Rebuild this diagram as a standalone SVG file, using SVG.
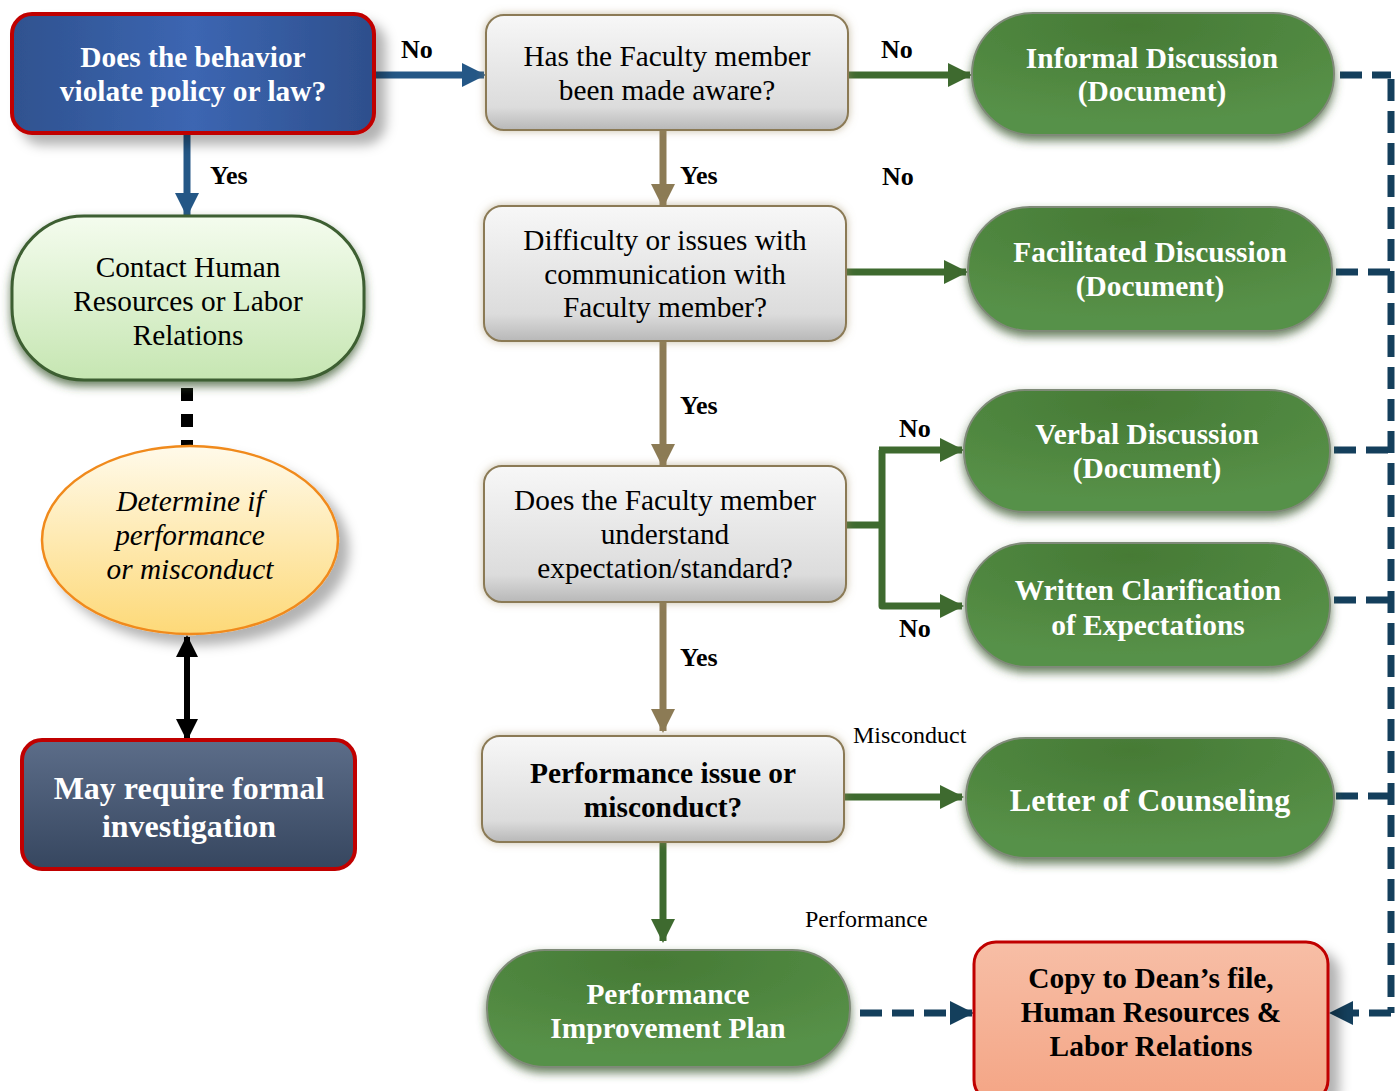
<svg xmlns="http://www.w3.org/2000/svg" width="1400" height="1091" viewBox="0 0 1400 1091">
<defs>
<linearGradient id="gBlue" x1="0" y1="0" x2="1" y2="0">
<stop offset="0" stop-color="#2f528f"/><stop offset="0.5" stop-color="#3c66b2"/><stop offset="1" stop-color="#2e4f8c"/>
</linearGradient>
<linearGradient id="gLight" x1="0" y1="0" x2="0" y2="1">
<stop offset="0" stop-color="#f4fcee"/><stop offset="1" stop-color="#c6e6b2"/>
</linearGradient>
<linearGradient id="gYellow" x1="0" y1="0" x2="0" y2="1">
<stop offset="0" stop-color="#fffaea"/><stop offset="1" stop-color="#fdd978"/>
</linearGradient>
<linearGradient id="gSlate" x1="0" y1="0" x2="0" y2="1">
<stop offset="0" stop-color="#5c6d89"/><stop offset="1" stop-color="#36465f"/>
</linearGradient>
<linearGradient id="gGray" x1="0" y1="0" x2="0" y2="1">
<stop offset="0" stop-color="#f7f7f7"/><stop offset="0.8" stop-color="#dcdcdc"/><stop offset="1" stop-color="#b8b8b8"/>
</linearGradient>
<radialGradient id="gGreen" cx="0.45" cy="0.1" r="0.8">
<stop offset="0" stop-color="#467a35"/><stop offset="1" stop-color="#579148"/>
</radialGradient>
<linearGradient id="gSalmon" x1="0" y1="0" x2="0" y2="1">
<stop offset="0" stop-color="#f7bea6"/><stop offset="1" stop-color="#f4a585"/>
</linearGradient>
<filter id="glowG" x="-10%" y="-20%" width="120%" height="150%">
<feGaussianBlur in="SourceAlpha" stdDeviation="5" result="b"/>
<feOffset dy="5" in="b" result="o"/>
<feFlood flood-color="#3c5a30" flood-opacity="0.75"/>
<feComposite in2="o" operator="in" result="s"/>
<feMerge><feMergeNode in="s"/><feMergeNode in="SourceGraphic"/></feMerge>
</filter>
<filter id="glowB" x="-10%" y="-20%" width="120%" height="150%">
<feGaussianBlur in="SourceAlpha" stdDeviation="4" result="b"/>
<feFlood flood-color="#9c8a60" flood-opacity="0.55"/>
<feComposite in2="b" operator="in" result="s"/>
<feMerge><feMergeNode in="s"/><feMergeNode in="SourceGraphic"/></feMerge>
</filter>
<filter id="shadow" x="-20%" y="-20%" width="150%" height="160%">
<feGaussianBlur in="SourceAlpha" stdDeviation="6" result="b"/>
<feOffset dx="10" dy="10" in="b" result="o"/>
<feFlood flood-color="#000" flood-opacity="0.3"/>
<feComposite in2="o" operator="in" result="s"/>
<feMerge><feMergeNode in="s"/><feMergeNode in="SourceGraphic"/></feMerge>
</filter>
<marker id="aBlue" markerUnits="userSpaceOnUse" markerWidth="24" markerHeight="24" refX="22" refY="12" orient="auto"><path d="M0,0 L24,12 L0,24 Z" fill="#245786"/></marker>
<marker id="aBrown" markerUnits="userSpaceOnUse" markerWidth="24" markerHeight="24" refX="22" refY="12" orient="auto"><path d="M0,0 L24,12 L0,24 Z" fill="#8c7b55"/></marker>
<marker id="aGreen" markerUnits="userSpaceOnUse" markerWidth="24" markerHeight="24" refX="22" refY="12" orient="auto"><path d="M0,0 L24,12 L0,24 Z" fill="#3e6a2f"/></marker>
<marker id="aDash" markerUnits="userSpaceOnUse" markerWidth="24" markerHeight="24" refX="22" refY="12" orient="auto"><path d="M0,0 L24,12 L0,24 Z" fill="#143f5c"/></marker>
<marker id="aBlack" markerUnits="userSpaceOnUse" markerWidth="22" markerHeight="22" refX="20" refY="11" orient="auto-start-reverse"><path d="M0,0 L22,11 L0,22 Z" fill="#000"/></marker>
<style>
text{font-family:"Liberation Serif","Times New Roman",serif;text-anchor:middle}
.w{fill:#fff;font-weight:bold;font-size:29.4px}
.k{fill:#000;font-size:29.3px}
.kb{fill:#000;font-weight:bold;font-size:29.4px}
.big{font-size:32px}
.it{font-style:italic}
.lab{fill:#000;font-weight:bold;font-size:26px;text-anchor:start}
.labr{fill:#000;font-size:24px;text-anchor:start}
.green{fill:url(#gGreen);stroke:#7f8a78;stroke-width:2;filter:url(#glowG)}
.gray{fill:url(#gGray);stroke:#8b7a55;stroke-width:2;filter:url(#glowB)}
.cb{stroke:#245786;stroke-width:7;fill:none}
.cbr{stroke:#8c7b55;stroke-width:7;fill:none}
.cg{stroke:#3e6a2f;stroke-width:7;fill:none}
.cd{stroke:#143f5c;stroke-width:7;fill:none;stroke-dasharray:22 10}
</style>
</defs>
<rect width="1400" height="1091" fill="#fff"/>

<g id="connectors">
<line class="cb" x1="374" y1="75" x2="484" y2="75" marker-end="url(#aBlue)"/>
<line class="cb" x1="187" y1="133" x2="187" y2="215" marker-end="url(#aBlue)"/>
<line x1="187" y1="388" x2="187" y2="446" stroke="#000" stroke-width="12" stroke-dasharray="13 13"/>
<line x1="187" y1="637" x2="187" y2="739" stroke="#000" stroke-width="6" marker-start="url(#aBlack)" marker-end="url(#aBlack)"/>
<line class="cbr" x1="663" y1="130" x2="663" y2="206" marker-end="url(#aBrown)"/>
<line class="cbr" x1="663" y1="341" x2="663" y2="466" marker-end="url(#aBrown)"/>
<line class="cbr" x1="663" y1="602" x2="663" y2="731" marker-end="url(#aBrown)"/>
<line class="cg" x1="663" y1="842" x2="663" y2="941" marker-end="url(#aGreen)"/>
<line class="cg" x1="848" y1="75" x2="970" y2="75" marker-end="url(#aGreen)"/>
<line class="cg" x1="846" y1="272" x2="966" y2="272" marker-end="url(#aGreen)"/>
<path class="cg" d="M846,525 H882"/>
<path class="cg" d="M882,450 V606 H962" stroke-linejoin="round" marker-end="url(#aGreen)"/>
<line class="cg" x1="879" y1="450" x2="962" y2="450" marker-end="url(#aGreen)"/>
<line class="cg" x1="844" y1="797" x2="962" y2="797" marker-end="url(#aGreen)"/>
<line class="cd" x1="1340" y1="75" x2="1391" y2="75"/>
<line class="cd" x1="1336" y1="272" x2="1391" y2="272"/>
<line class="cd" x1="1334" y1="450" x2="1391" y2="450"/>
<line class="cd" x1="1334" y1="600" x2="1391" y2="600"/>
<line class="cd" x1="1336" y1="796" x2="1391" y2="796"/>
<line class="cd" x1="1391" y1="79" x2="1391" y2="1013"/>
<path class="cd" d="M1391,1013 H1331" marker-end="url(#aDash)"/>
<line class="cd" x1="860" y1="1013" x2="972" y2="1013" marker-end="url(#aDash)"/>
<text class="lab" x="401" y="58">No</text>
<text class="lab" x="210" y="184">Yes</text>
<text class="lab" x="680" y="184">Yes</text>
<text class="lab" x="680" y="414">Yes</text>
<text class="lab" x="680" y="666">Yes</text>
<text class="lab" x="881" y="58">No</text>
<text class="lab" x="882" y="185">No</text>
<text class="lab" x="899" y="437">No</text>
<text class="lab" x="899" y="637">No</text>
<text class="labr" x="853" y="743">Misconduct</text>
<text class="labr" x="805" y="927">Performance</text>
</g>

<g id="n-violate">
<rect x="12" y="14" width="362" height="119" rx="20" fill="url(#gBlue)" stroke="#c00000" stroke-width="4" filter="url(#shadow)"/>
<text class="w" x="193" y="67">Does the behavior</text>
<text class="w" x="193" y="101">violate policy or law?</text>
</g>

<g id="n-contact">
<rect x="12" y="216" width="352" height="164" rx="72" fill="url(#gLight)" stroke="#3d5e30" stroke-width="3" filter="url(#glowG)"/>
<text class="k" x="188" y="277">Contact Human</text>
<text class="k" x="188" y="311">Resources or Labor</text>
<text class="k" x="188" y="345">Relations</text>
</g>

<g id="n-determine">
<ellipse cx="190" cy="540" rx="148" ry="94" fill="url(#gYellow)" stroke="#f08a1c" stroke-width="2.5" filter="url(#shadow)"/>
<text class="k it" x="190" y="511">Determine if</text>
<text class="k it" x="190" y="545">performance</text>
<text class="k it" x="190" y="579">or misconduct</text>
</g>

<g id="n-formal">
<rect x="22" y="740" width="333" height="129" rx="20" fill="url(#gSlate)" stroke="#c00000" stroke-width="4"/>
<text class="w big" x="189" y="799">May require formal</text>
<text class="w big" x="189" y="837">investigation</text>
</g>

<g id="n-aware">
<rect class="gray" x="486" y="15" width="362" height="115" rx="18"/>
<text class="k" x="667" y="66">Has the Faculty member</text>
<text class="k" x="667" y="100">been made aware?</text>
</g>

<g id="n-difficulty">
<rect class="gray" x="484" y="206" width="362" height="135" rx="18"/>
<text class="k" x="665" y="250">Difficulty or issues with</text>
<text class="k" x="665" y="284">communication with</text>
<text class="k" x="665" y="317">Faculty member?</text>
</g>

<g id="n-understand">
<rect class="gray" x="484" y="466" width="362" height="136" rx="18"/>
<text class="k" x="665" y="510">Does the Faculty member</text>
<text class="k" x="665" y="544">understand</text>
<text class="k" x="665" y="578">expectation/standard?</text>
</g>

<g id="n-issue">
<rect class="gray" x="482" y="736" width="362" height="106" rx="18"/>
<text class="kb" x="663" y="783">Performance issue or</text>
<text class="kb" x="663" y="817">misconduct?</text>
</g>

<g id="n-pip">
<rect class="green" x="487" y="950" width="363" height="117" rx="58"/>
<text class="w" x="668" y="1004">Performance</text>
<text class="w" x="668" y="1038">Improvement Plan</text>
</g>

<g id="n-informal">
<rect class="green" x="972" y="13" width="362" height="122" rx="61"/>
<text class="w" x="1152" y="68">Informal Discussion</text>
<text class="w" x="1152" y="101">(Document)</text>
</g>

<g id="n-facilitated">
<rect class="green" x="968" y="207" width="364" height="124" rx="62"/>
<text class="w" x="1150" y="262">Facilitated Discussion</text>
<text class="w" x="1150" y="296">(Document)</text>
</g>

<g id="n-verbal">
<rect class="green" x="964" y="390" width="366" height="122" rx="61"/>
<text class="w" x="1147" y="444">Verbal Discussion</text>
<text class="w" x="1147" y="478">(Document)</text>
</g>

<g id="n-written">
<rect class="green" x="966" y="543" width="364" height="124" rx="62"/>
<text class="w" x="1148" y="600">Written Clarification</text>
<text class="w" x="1148" y="635">of Expectations</text>
</g>

<g id="n-letter">
<rect class="green" x="966" y="738" width="368" height="120" rx="60"/>
<text class="w big" x="1150" y="811">Letter of Counseling</text>
</g>

<g id="n-copy">
<rect x="974" y="942" width="354" height="160" rx="22" fill="url(#gSalmon)" stroke="#c00000" stroke-width="3" filter="url(#shadow)"/>
<text class="kb" x="1151" y="988">Copy to Dean’s file,</text>
<text class="kb" x="1151" y="1022">Human Resources &amp;</text>
<text class="kb" x="1151" y="1056">Labor Relations</text>
</g>
</svg>
